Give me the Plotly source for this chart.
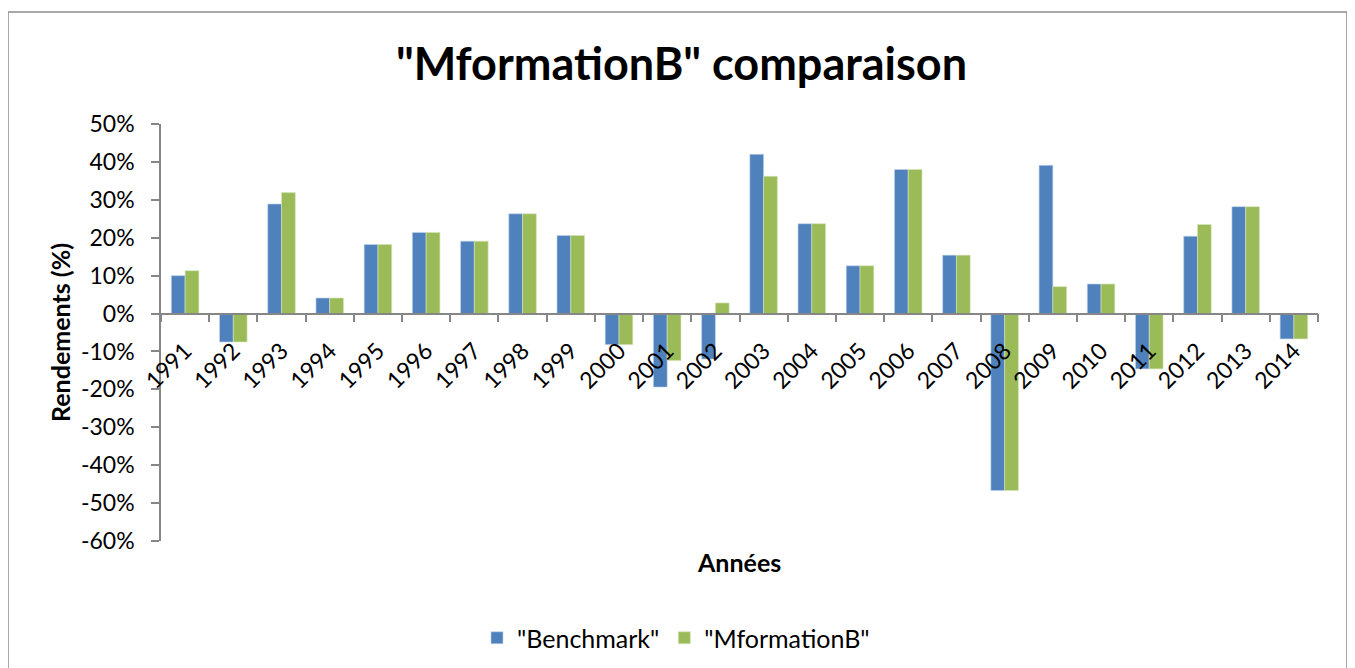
import plotly.graph_objects as go

years = [str(y) for y in range(1991, 2015)]
benchmark = [10.0, -7.5, 28.9, 4.1, 18.2, 21.4, 19.1, 26.3, 20.6, -8.2, -19.4, -12.0,
             42.0, 23.7, 12.6, 38.0, 15.4, -46.7, 39.1, 7.8, -14.6, 20.4, 28.2, -6.7]
mformationb = [11.3, -7.5, 31.9, 4.1, 18.2, 21.4, 19.1, 26.3, 20.6, -8.2, -12.4, 2.8,
               36.2, 23.7, 12.6, 38.0, 15.4, -46.7, 7.1, 7.8, -14.6, 23.5, 28.2, -6.7]
ytick_vals = [50, 40, 30, 20, 10, 0, -10, -20, -30, -40, -50, -60]
ytick_text = ["50%", "40%", "30%", "20%", "10%", "0%", "-10%", "-20%", "-30%", "-40%", "-50%", "-60%"]

FONT = "Lato"
AXIS_GREY = "#868686"

# page body has an 8px margin: work in screen coordinates and convert
OFF = 8
W, H = 1355 - OFF, 668 - OFF
SL, SR, ST, SB = 161, 1318, 124, 541  # plot area in screen pixels
L = SL - OFF
R = W - (SR - OFF)
T = ST - OFF
B = H - (SB - OFF)
pw = W - L - R
ph = H - T - B

def px(x):
    return (x - OFF - L) / pw

def py(y):
    return (H - B - (y - OFF)) / ph

fig = go.Figure()
fig.add_trace(go.Bar(x=years, y=benchmark, name='"Benchmark"',
                     marker=dict(color="#4F81BD", line=dict(color="#C5D5EA", width=0.6))))
fig.add_trace(go.Bar(x=years, y=mformationb, name='"MformationB"',
                     marker=dict(color="#9BBB59", line=dict(color="#D7E4BD", width=0.6))))

fig.update_layout(
    width=W, height=H,
    margin=dict(l=L, r=R, t=T, b=B, autoexpand=False),
    paper_bgcolor="white", plot_bgcolor="white",
    barmode="group", bargap=0.4286, bargroupgap=0,
    font=dict(family=FONT, color="black", size=23),
    title=dict(text='<b>"MformationB" comparaison</b>', x=0.5, xref="container",
               xanchor="center", y=1 - (64 - OFF) / H, yanchor="middle",
               font=dict(family=FONT, size=45, color="black")),
    showlegend=True,
    legend=dict(orientation="h", x=px(676), xanchor="center", y=py(638), yanchor="middle",
                font=dict(family=FONT, size=25), traceorder="normal"),
    xaxis=dict(type="category", anchor="free", position=60 / 110,
               showline=True, linecolor=AXIS_GREY, linewidth=1.5,
               ticks="outside", tickson="boundaries", ticklen=8, tickcolor=AXIS_GREY,
               tickwidth=1.5, tickangle=-45, showgrid=False, zeroline=False,
               tickfont=dict(family=FONT, size=23), range=[-0.5, 23.5],
               ticklabelstandoff=14),
    yaxis=dict(range=[-60, 50], tickvals=ytick_vals, ticktext=ytick_text,
               showline=True, linecolor=AXIS_GREY, linewidth=1.5,
               ticks="outside", ticklen=8, tickcolor=AXIS_GREY, tickwidth=1.5,
               showgrid=False, zeroline=False, tickfont=dict(family=FONT, size=23),
               ticklabelstandoff=12),
    annotations=[
        dict(text="<b>Années</b>", x=px(739), y=py(562), xref="paper", yref="paper",
             showarrow=False, xanchor="center", yanchor="middle",
             font=dict(family=FONT, size=25)),
        dict(text="<b>Rendements (%)</b>", x=px(60), y=py(333), xref="paper", yref="paper",
             showarrow=False, xanchor="center", yanchor="middle", textangle=-90,
             font=dict(family=FONT, size=25)),
    ],
    shapes=[
        dict(type="rect", xref="paper", yref="paper",
             x0=px(8), x1=px(1347), y0=py(700), y1=py(12),
             line=dict(color="#8C8C8C", width=1.5), fillcolor="rgba(0,0,0,0)", layer="below"),
    ],
)

fig.write_html("out.html")
